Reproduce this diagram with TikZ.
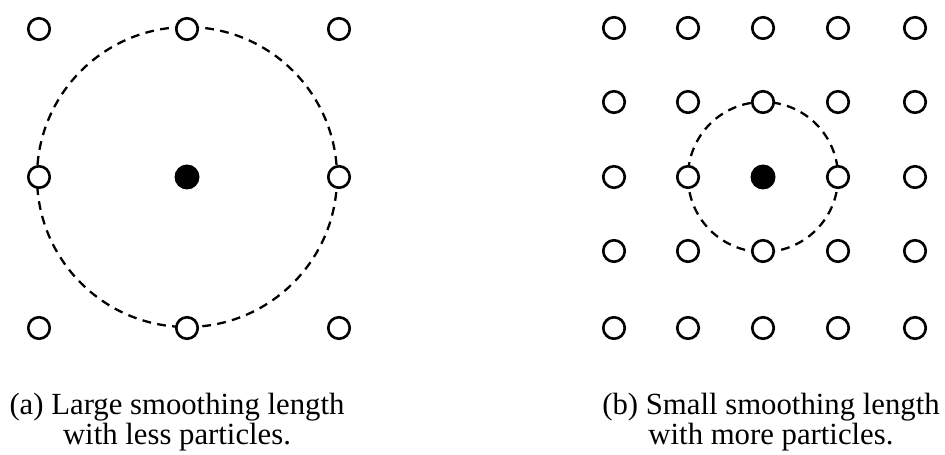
\documentclass[tikz,border=0pt]{standalone}
\usepackage{fontspec}
\setmainfont{Liberation Serif}

\begin{document}
\begin{tikzpicture}[x=0.02cm,y=-0.02cm,
        particle/.style={circle,draw,fill=white,line width=1.5pt,minimum size=0.43cm,inner sep=0pt},
        target/.style={circle,fill=black,minimum size=0.5cm,inner sep=0pt},
        support/.style={line width=1.3pt,dash pattern=on 5pt off 3.6pt},
        caption/.style={align=center,anchor=base,inner sep=0pt,font=\fontsize{17.5}{15.5}\selectfont}]

  \useasboundingbox (0,0) rectangle (945,455);

  % (a) coarse spacing, big kernel
  \node[target] (a0) at (187,177) {};
  \draw[support] (a0.center) circle (150);
  \foreach \x/\i in {39/0,187/1,339/2}{
    \foreach \y/\j in {29/0,177/1,328/2}{
      \ifnum\i\j=11\relax\else
        \node[particle] (a\i\j) at (\x,\y) {};
      \fi
    }
  }

  % (b) fine spacing, small kernel
  \node[target] (b0) at (763,177) {};
  \draw[support] (b0.center) circle (75);
  \foreach \x/\i in {614/0,688/1,763/2,838/3,915/4}{
    \foreach \y/\j in {28/0,102/1,177/2,251/3,328/4}{
      \ifnum\i\j=22\relax\else
        \node[particle] (b\i\j) at (\x,\y) {};
      \fi
    }
  }

  \node[caption] (capa) at (177,444) {(a) Large smoothing length\\with less particles.};
  \node[caption] (capb) at (771,444) {(b) Small smoothing length\\with more particles.};

\end{tikzpicture}
\end{document}
